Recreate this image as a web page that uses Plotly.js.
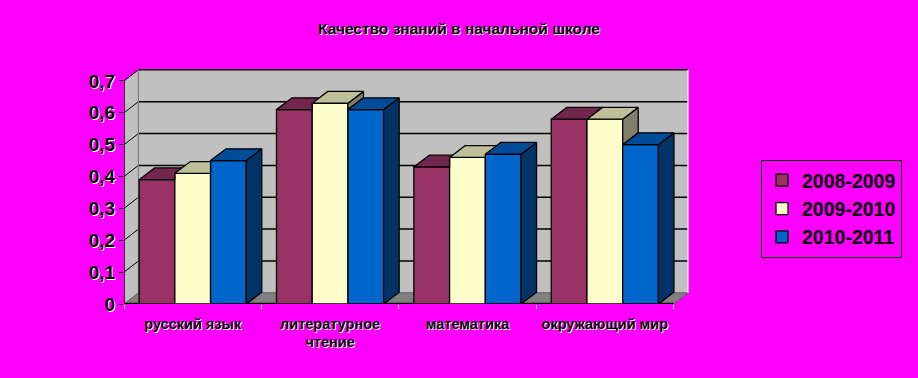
<!DOCTYPE html>
<html>
<head>
<meta charset="utf-8">
<script src="https://cdn.plot.ly/plotly-3.0.1.min.js"></script>
<style>
html,body{margin:0;padding:0;background:#FF00FF;}
#chart{width:918px;height:378px;}
</style>
</head>
<body>
<div id="chart"></div>
<script>
// ---- data ----
const categories = ['русский язык', 'литературное чтение', 'математика', 'окружающий мир'];
const tickLabels = ['русский язык', 'литературное<br>чтение', 'математика', 'окружающий мир'];
const seriesNames = ['2008-2009', '2009-2010', '2010-2011'];
const v2008 = [0.39, 0.61, 0.43, 0.58];
const v2009 = [0.41, 0.63, 0.46, 0.58];
const v2010 = [0.45, 0.61, 0.47, 0.50];
const yTickVals = [0, 0.1, 0.2, 0.3, 0.4, 0.5, 0.6, 0.7];
const yTickText = ['0', '0,1', '0,2', '0,3', '0,4', '0,5', '0,6', '0,7'];

// ---- geometry / style ----
const series = [v2008, v2009, v2010];
const colors = [
  {front: '#993366', top: '#73264D', side: '#4D1A33'},
  {front: '#FFFFCC', top: '#BFBF99', side: '#80806A'},
  {front: '#0066CC', top: '#004C99', side: '#003366'}
];
const W = 0.26, GROUP = 0.78;      // bar width, group width (category units)
const DX = 0.113, DY = 0.037;      // bar depth offset
const WDX = 0.105, WDY = 0.035;    // wall depth offset
const YMAX = yTickVals[yTickVals.length - 1];
const NC = categories.length;
const xs = categories.map((c, i) => i + 0.5);
const off = s => -GROUP / 2 + s * W;
const shadowTxt = '1px 1px 0px #ffffff';

const traces = [];
series.forEach((vals, s) => {
  traces.push({
    type: 'bar', name: seriesNames[s], x: xs, y: vals, width: W, offset: off(s),
    marker: {color: colors[s].front, line: {color: 'black', width: 1.3}},
    legendgroup: 'g' + s, hoverinfo: 'skip'
  });
});

function pushPoly(arrX, arrY, pts) {
  if (arrX.length) { arrX.push(null); arrY.push(null); }
  pts.forEach(p => { arrX.push(p[0]); arrY.push(p[1]); });
  arrX.push(pts[0][0]); arrY.push(pts[0][1]);
}

series.forEach((vals, s) => {
  const sx = [], sy = [], tx = [], ty = [];
  vals.forEach((h, i) => {
    const xl = xs[i] + off(s), xr = xl + W;
    const hn = s < series.length - 1 ? series[s + 1][i] : null;
    // side face (visible part)
    if (hn === null) pushPoly(sx, sy, [[xr, 0], [xr + DX, DY], [xr + DX, h + DY], [xr, h]]);
    else if (h > hn) pushPoly(sx, sy, [[xr, hn], [xr + DX, hn + DY], [xr + DX, h + DY], [xr, h]]);
    // top face (visible part)
    if (hn === null || hn <= h) pushPoly(tx, ty, [[xl, h], [xr, h], [xr + DX, h + DY], [xl + DX, h + DY]]);
    else if (hn < h + DY) {
      const xc = xr + (hn - h) * DX / DY;
      pushPoly(tx, ty, [[xl, h], [xr, h], [xr, hn], [xc, hn], [xr + DX, h + DY], [xl + DX, h + DY]]);
    } else pushPoly(tx, ty, [[xl, h], [xr, h], [xr, h + DY], [xl + DX, h + DY]]);
  });
  if (sx.length) traces.push({type: 'scatter', mode: 'lines', x: sx, y: sy, fill: 'toself',
    fillcolor: colors[s].side, line: {color: 'black', width: 1.3}, showlegend: false, hoverinfo: 'skip'});
  traces.push({type: 'scatter', mode: 'lines', x: tx, y: ty, fill: 'toself',
    fillcolor: colors[s].top, line: {color: 'black', width: 1.3}, showlegend: false, hoverinfo: 'skip'});
});

// ---- walls / floor (decoration) ----
const shapes = [];
const P = pts => 'M' + pts.map(p => p[0] + ',' + p[1]).join('L') + 'Z';
// left wall
shapes.push({type: 'path', layer: 'below', xref: 'x', yref: 'y',
  path: P([[0, 0], [WDX, WDY], [WDX, YMAX + WDY], [0, YMAX]]), fillcolor: '#C0C0C0', line: {width: 0}});
// back wall
shapes.push({type: 'rect', layer: 'below', xref: 'x', yref: 'y', x0: WDX, x1: NC + WDX, y0: WDY, y1: YMAX + WDY,
  fillcolor: '#C0C0C0', line: {width: 0}});
// floor
shapes.push({type: 'path', layer: 'below', xref: 'x', yref: 'y',
  path: P([[0, 0], [NC, 0], [NC + WDX, WDY], [WDX, WDY]]), fillcolor: '#808080', line: {color: '#606060', width: 1}});
// gridlines
yTickVals.slice(1).forEach(v => {
  shapes.push({type: 'line', layer: 'below', xref: 'x', yref: 'y', x0: WDX, x1: NC + WDX, y0: v + WDY, y1: v + WDY,
    line: {color: 'black', width: 1.5}});
  shapes.push({type: 'line', layer: 'below', xref: 'x', yref: 'y', x0: 0, x1: WDX, y0: v, y1: v + WDY,
    line: {color: 'black', width: 1}});
});
// wall edges
shapes.push({type: 'line', layer: 'below', xref: 'x', yref: 'y', x0: WDX, x1: WDX, y0: WDY, y1: YMAX + WDY,
  line: {color: '#808080', width: 1.2}});
shapes.push({type: 'line', layer: 'below', xref: 'x', yref: 'y', x0: NC + WDX, x1: NC + WDX, y0: WDY, y1: YMAX + WDY,
  line: {color: '#E6E6E6', width: 1.5}});
// front axis lines
shapes.push({type: 'line', layer: 'below', xref: 'x', yref: 'y', x0: 0, x1: 0, y0: 0, y1: YMAX,
  line: {color: 'black', width: 1.5}});
shapes.push({type: 'line', layer: 'below', xref: 'x', yref: 'y', x0: 0, x1: NC, y0: 0, y1: 0,
  line: {color: 'black', width: 2.5}});

const layout = {
  width: 918, height: 378,
  paper_bgcolor: '#FF00FF', plot_bgcolor: 'rgba(0,0,0,0)',
  margin: {l: 124, r: 216.5, t: 65, b: 74},
  separators: ',.',
  barmode: 'overlay',
  showlegend: true,
  font: {family: 'Liberation Sans, Arial, sans-serif', color: 'black'},
  title: {text: 'Качество знаний в начальной школе', x: 0.5, xanchor: 'center', xref: 'container',
    y: 1 - 29 / 378, yanchor: 'middle', yref: 'container',
    font: {size: 15.5, weight: 'bold', color: 'black', shadow: shadowTxt}},
  xaxis: {range: [0, 4.2], tickmode: 'array', tickvals: xs, ticktext: tickLabels, ticks: '',
    showgrid: false, zeroline: false, showline: false, fixedrange: true, ticklabelstandoff: 9,
    tickfont: {size: 14.5, weight: 'bold', color: 'black', shadow: shadowTxt},
    minor: {tickmode: 'array', tickvals: [0, 1, 2, 3, 4], ticks: 'outside', ticklen: 4, tickwidth: 1,
      tickcolor: '#ffffff', showgrid: false}},
  yaxis: {range: [0, 0.75], tickmode: 'array', tickvals: yTickVals, ticktext: yTickText, ticks: 'outside',
    ticklen: 4, tickwidth: 1, tickcolor: 'black', showgrid: false, zeroline: false, showline: false, fixedrange: true,
    tickfont: {size: 19, weight: 'bold', color: 'black', shadow: shadowTxt}},
  legend: {x: 1.104, xanchor: 'left', y: 0.6025, yanchor: 'top', bgcolor: 'rgba(0,0,0,0)',
    bordercolor: 'black', borderwidth: 1, tracegroupgap: 9, traceorder: 'normal',
    font: {size: 19.5, weight: 'bold', color: 'black'}},
  shapes: shapes
};

Plotly.newPlot('chart', traces, layout, {displayModeBar: false, staticPlot: true});
</script>
</body>
</html>
